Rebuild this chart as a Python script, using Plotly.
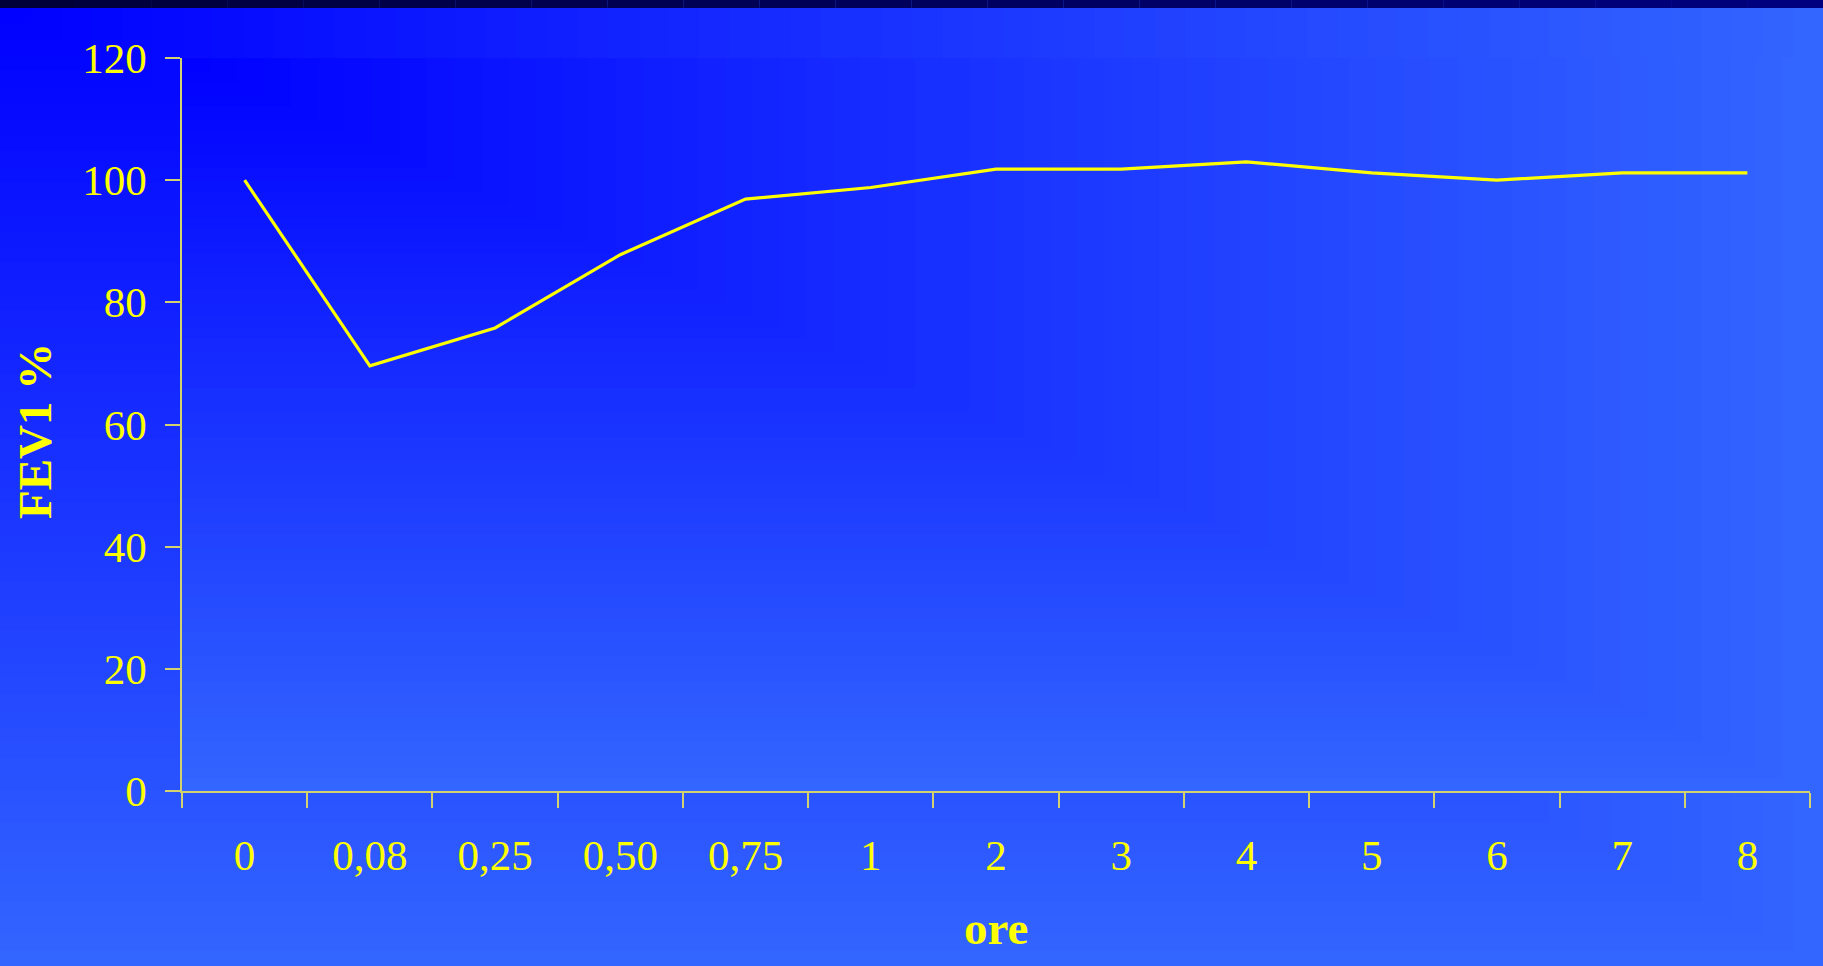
import plotly.graph_objects as go

# FEV1 (% of baseline) over time after dosing
ore_labels = ["0", "0,08", "0,25", "0,50", "0,75", "1", "2", "3", "4", "5", "6", "7", "8"]
fev1_pct = [100, 69.6, 75.8, 87.8, 96.9, 98.8, 101.8, 101.8, 103, 101.2, 100, 101.2, 101.2]

W, H = 1823, 966
ML, MR, MT, MB = 182, 13, 58, 175
PW, PH = W - ML - MR, H - MT - MB

YELLOW = "#ffff00"
AXIS_COL = "#d2d26e"
FONT = "Liberation Serif, Times New Roman, serif"


def px_x(px):
    return (px - ML) / PW


def px_y(py):
    return (H - MB - py) / PH


def lerp(c0, c1, t):
    return "rgb({},{},{})".format(*[round(a + (b - a) * t) for a, b in zip(c0, c1)])


C0, C1 = (0, 0, 255), (51, 102, 255)
shapes = []


def corner_gradient(x0, y0, x1, y1, steps):
    # rectangular gradient fanning out from the top-left corner
    for i in range(steps, 0, -1):
        v = i / steps
        shapes.append(dict(
            type="rect", xref="paper", yref="paper", layer="below",
            x0=px_x(x0), x1=px_x(x0 + (x1 - x0) * v),
            y0=px_y(y0), y1=px_y(y0 + (y1 - y0) * v),
            fillcolor=lerp(C0, C1, (i - 0.5) / steps), line=dict(width=0),
        ))


# slide background, then the plot-area fill
corner_gradient(0, 7, W, H, 60)
corner_gradient(ML, MT, W - MR, H - MB, 60)

# dark strip along the top edge
n_band = 24
for i in range(n_band):
    shapes.append(dict(
        type="rect", xref="paper", yref="paper", layer="below",
        x0=px_x(W * i / n_band), x1=px_x(W * (i + 1) / n_band),
        y0=px_y(8), y1=px_y(0),
        fillcolor=lerp((0, 0, 55), (0, 0, 128), (i + 0.5) / n_band), line=dict(width=0),
    ))

fig = go.Figure()
fig.add_trace(go.Scatter(
    x=ore_labels, y=fev1_pct, mode="lines",
    line=dict(color=YELLOW, width=3.2), hoverinfo="skip", showlegend=False,
))

fig.update_layout(
    width=W, height=H,
    margin=dict(l=ML, r=MR, t=MT, b=MB, pad=0),
    paper_bgcolor="rgb(51,102,255)",
    plot_bgcolor="rgba(0,0,0,0)",
    shapes=shapes,
    font=dict(family=FONT, color=YELLOW, size=43),
    xaxis=dict(
        type="category", range=[-0.5, len(ore_labels) - 0.5],
        showgrid=False, zeroline=False, showline=True,
        linecolor=AXIS_COL, linewidth=1.5,
        ticks="outside", tickson="boundaries", ticklen=15, tickwidth=1.5, tickcolor=AXIS_COL,
        tickfont=dict(family=FONT, color=YELLOW, size=43),
        ticklabelstandoff=26,
    ),
    yaxis=dict(
        range=[0, 120], dtick=20, tick0=0,
        showgrid=False, zeroline=False, showline=True,
        linecolor=AXIS_COL, linewidth=1.5,
        ticks="outside", ticklen=15, tickwidth=1.5, tickcolor=AXIS_COL,
        tickfont=dict(family=FONT, color=YELLOW, size=43),
        ticklabelstandoff=10,
    ),
    annotations=[
        dict(text="<b>FEV1 %</b>", xref="paper", yref="paper",
             x=px_x(35), y=px_y(431), xanchor="center", yanchor="middle",
             textangle=-90, showarrow=False,
             font=dict(family=FONT, color=YELLOW, size=47)),
        dict(text="<b>ore</b>", xref="paper", yref="paper",
             x=px_x(996), y=px_y(928), xanchor="center", yanchor="middle",
             showarrow=False,
             font=dict(family=FONT, color=YELLOW, size=47)),
    ],
)

fig.write_html("out.html")
